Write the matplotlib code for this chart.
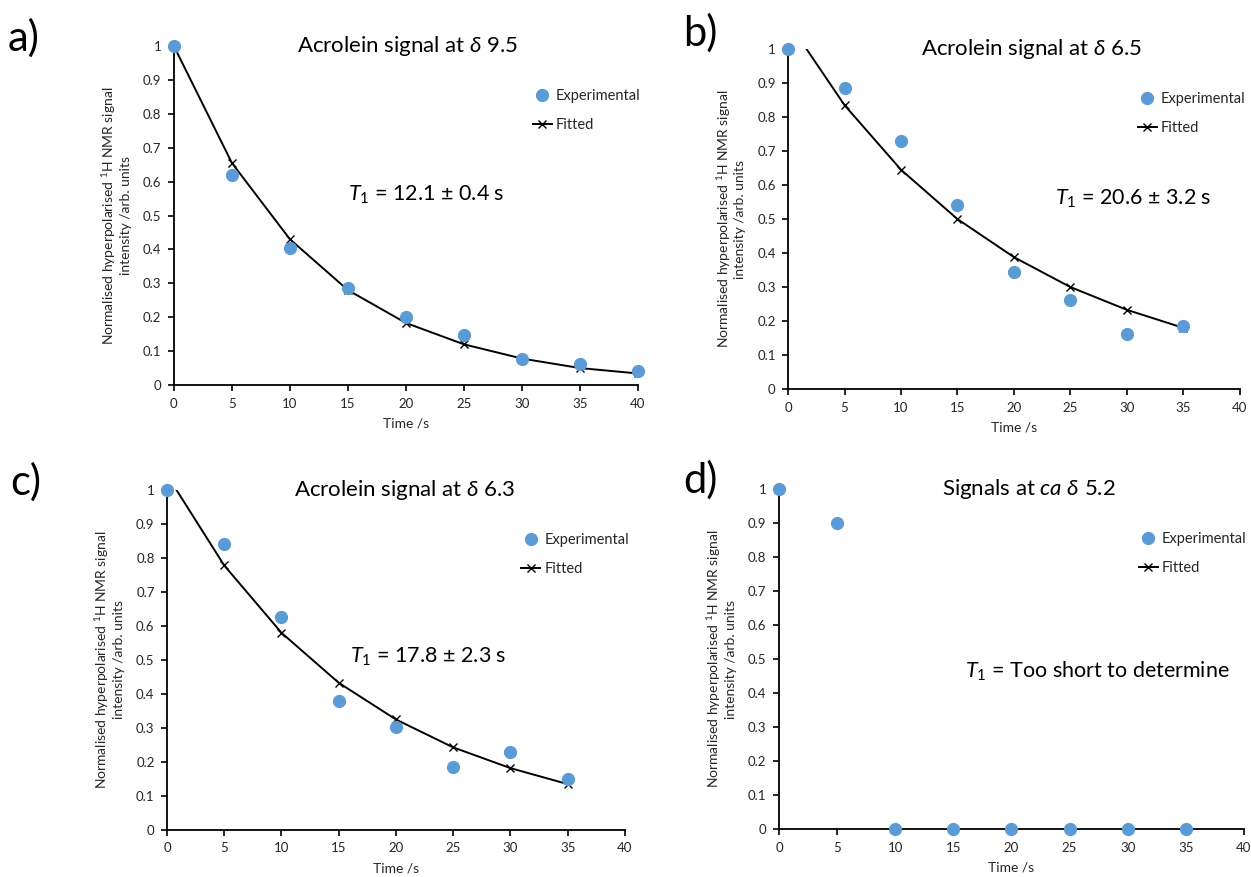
import matplotlib
matplotlib.use("Agg")
import matplotlib.pyplot as plt

plt.rcParams["font.family"] = ["Lato", "DejaVu Sans"]
plt.rcParams["mathtext.fontset"] = "custom"
plt.rcParams["mathtext.rm"] = "Lato"
plt.rcParams["mathtext.it"] = "Lato:italic"
plt.rcParams["mathtext.fallback"] = "stixsans"

EXP_COLOR = "#5B9BD5"
TEXT_COLOR = "#262626"

# acquisition times (s)
time_a = [0, 5, 10, 15, 20, 25, 30, 35, 40]
time_bcd = [0, 5, 10, 15, 20, 25, 30, 35]

# a) acrolein, delta 9.5
exp_a = [1.0, 0.62, 0.405, 0.285, 0.2, 0.148, 0.078, 0.062, 0.04]
fit_a = [1.0, 0.655, 0.43, 0.28, 0.183, 0.12, 0.078, 0.05, 0.034]

# b) acrolein, delta 6.5
exp_b = [1.0, 0.885, 0.73, 0.54, 0.345, 0.262, 0.162, 0.186]
fit_b = [1.08, 0.835, 0.645, 0.5, 0.388, 0.3, 0.233, 0.18]

# c) acrolein, delta 6.3
exp_c = [1.0, 0.842, 0.626, 0.38, 0.303, 0.185, 0.228, 0.15]
fit_c = [1.044, 0.778, 0.58, 0.433, 0.325, 0.243, 0.182, 0.135]

# d) signals around delta 5.2 -- no usable fit
exp_d = [1.0, 0.9, 0, 0, 0, 0, 0, 0]
fit_d = []

panel_letters = ["a)", "b)", "c)", "d)"]
titles = [r"Acrolein signal at $\it{\delta}$ 9.5",
          r"Acrolein signal at $\it{\delta}$ 6.5",
          r"Acrolein signal at $\it{\delta}$ 6.3",
          r"Signals at $\it{ca}$ $\it{\delta}$ 5.2"]
t1_labels = [r"$\it{T}_1$ = 12.1 ± 0.4 s",
             r"$\it{T}_1$ = 20.6 ± 3.2 s",
             r"$\it{T}_1$ = 17.8 ± 2.3 s",
             r"$\it{T}_1$ = Too short to determine"]
yticks = [0, 0.1, 0.2, 0.3, 0.4, 0.5, 0.6, 0.7, 0.8, 0.9, 1]
ytick_labels = ["0", "0.1", "0.2", "0.3", "0.4", "0.5", "0.6", "0.7", "0.8", "0.9", "1"]
xticks = [0, 5, 10, 15, 20, 25, 30, 35, 40]

fig = plt.figure(figsize=(12.51, 8.77), dpi=100)

# axes rectangles [left, bottom, width, height]
rects = [[0.139, 0.561, 0.371, 0.3865],
         [0.630, 0.5564, 0.361, 0.3876],
         [0.1335, 0.0536, 0.366, 0.3877],
         [0.6227, 0.0547, 0.3717, 0.3877]]
title_x = [0.504, 0.54, 0.52, 0.537]
t1_pos = [(0.375, 0.56), (0.59, 0.56), (0.40, 0.51), (0.40, 0.465)]
letter_pos = [(-0.358, 1.024), (-0.232, 1.047), (-0.343, 1.024), (-0.206, 1.026)]

series = [(time_a, exp_a, fit_a), (time_bcd, exp_b, fit_b),
          (time_bcd, exp_c, fit_c), (time_bcd, exp_d, fit_d)]

for i, (t, exp, fit) in enumerate(series):
    ax = fig.add_axes(rects[i])
    ax.plot(t[:len(fit)], fit, color="black", lw=1.4, marker="x", ms=6,
            mew=1.0, label="Fitted", zorder=2)
    ax.plot(t, exp, ls="none", marker="o", ms=8.5, color=EXP_COLOR,
            label="Experimental", clip_on=False, zorder=3)

    ax.set_xlim(0, 40)
    ax.set_ylim(0, 1)
    ax.set_xticks(xticks)
    ax.set_yticks(yticks)
    ax.set_yticklabels(ytick_labels)
    for side in ["top", "right"]:
        ax.spines[side].set_visible(False)
    for side in ["left", "bottom"]:
        ax.spines[side].set_linewidth(1.3)
    ax.tick_params(direction="out", length=4, width=1.2, labelsize=9.5,
                   labelcolor=TEXT_COLOR, pad=5)

    ax.set_xlabel("Time /s", fontsize=10, color=TEXT_COLOR, labelpad=6)
    ax.set_ylabel("Normalised hyperpolarised $^{1}$H NMR signal\nintensity /arb. units",
                  fontsize=10, color=TEXT_COLOR, labelpad=8, linespacing=1.15)

    ax.text(title_x[i], 1.0, titles[i], transform=ax.transAxes, ha="center",
            va="center", fontsize=16, color="black")
    ax.text(t1_pos[i][0], t1_pos[i][1], t1_labels[i], transform=ax.transAxes,
            ha="left", va="center", fontsize=15.5, color="black")
    ax.text(letter_pos[i][0], letter_pos[i][1], panel_letters[i],
            transform=ax.transAxes, ha="left", va="center", fontsize=30,
            color="black")

    handles, labels = ax.get_legend_handles_labels()
    ax.legend(handles[::-1], labels[::-1], loc="center left",
              bbox_to_anchor=(0.745, 0.81), frameon=False, fontsize=10.5,
              handlelength=1.3, handletextpad=0.3, labelspacing=1.0,
              labelcolor=TEXT_COLOR)

fig.savefig("out.png", dpi=100, facecolor="white")
